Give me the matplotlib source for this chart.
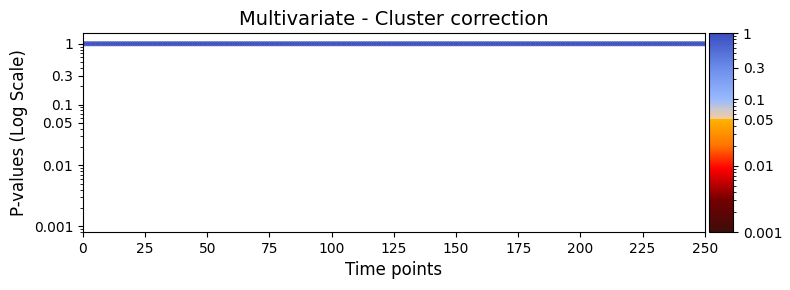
import numpy as np
import matplotlib
matplotlib.use('Agg')
import matplotlib.pyplot as plt
from matplotlib.colors import LinearSegmentedColormap, LogNorm

# data: p-values per time point (all at 1)
n_time = 251
time_points = np.arange(n_time)
p_values = np.ones(n_time)

y_ticks = [0.001, 0.01, 0.05, 0.1, 0.3, 1]
y_tick_labels = ['0.001', '0.01', '0.05', '0.1', '0.3', '1']
x_ticks = np.arange(0, 251, 25)

# colour anchors (p-value, rgb) for the significance colormap
anchor_p = [0.001, 0.003, 0.009, 0.02, 0.0499, 0.0501, 0.07, 0.1, 0.3, 1.0]
anchor_rgb = [(0.24, 0.05, 0.04), (0.45, 0.0, 0.0), (1.0, 0.0, 0.0), (1.0, 0.45, 0.0),
              (1.0, 0.70, 0.0), (0.97, 0.80, 0.60), (0.80, 0.78, 0.80), (0.60, 0.73, 1.0),
              (0.42, 0.55, 0.92), (0.23, 0.30, 0.75)]
pos = [(np.log10(p) + 3) / 3 for p in anchor_p]
pos[0], pos[-1] = 0.0, 1.0
cmap = LinearSegmentedColormap.from_list('pcmap', list(zip(pos, anchor_rgb)), N=512)
norm = LogNorm(vmin=0.001, vmax=1)

fig = plt.figure(figsize=(7.9, 2.9), dpi=100)
ax = fig.add_axes([0.105, 0.2, 0.787, 0.686])
cax = fig.add_axes([0.897, 0.2, 0.031, 0.686])

ax.scatter(time_points, p_values, c=p_values, cmap=cmap, norm=norm, s=14, alpha=0.8, edgecolors='none')
ax.set_yscale('log')
ax.set_ylim(0.0008, 1.5)
ax.set_xlim(0, 250)
ax.set_xticks(x_ticks)
ax.set_yticks(y_ticks)
ax.set_yticklabels(y_tick_labels)
ax.set_xlabel('Time points', fontsize=12)
ax.set_ylabel('P-values (Log Scale)', fontsize=12)
ax.set_title('Multivariate - Cluster correction', fontsize=14)

cb = fig.colorbar(plt.cm.ScalarMappable(norm=norm, cmap=cmap), cax=cax)
cb.set_ticks(y_ticks)
cb.set_ticklabels(y_tick_labels)

fig.savefig('out.png', dpi=100)
